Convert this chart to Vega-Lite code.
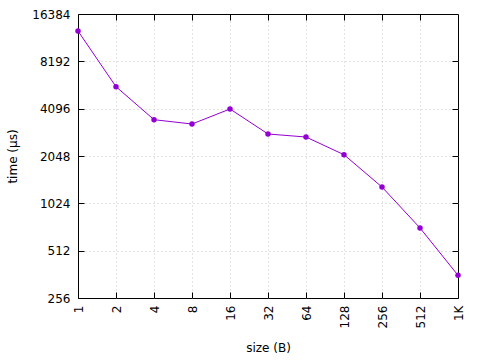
{
  "$schema": "https://vega.github.io/schema/vega-lite/v6.json",
  "width": 380,
  "height": 284,
  "autosize": {"type": "none"},
  "padding": {"left": 78, "top": 14, "right": 22, "bottom": 62},
  "background": "white",
  "config": {
    "font": "DejaVu Sans",
    "view": {"stroke": "#000000", "strokeWidth": 1},
    "axis": {
      "labelFont": "DejaVu Sans",
      "titleFont": "DejaVu Sans",
      "labelFontSize": 12,
      "titleFontSize": 12,
      "labelColor": "#000000",
      "titleColor": "#000000",
      "titleFontWeight": "normal",
      "domain": false,
      "tickColor": "#000000",
      "tickWidth": 1,
      "tickSize": -6,
      "gridColor": "#c8c8c8",
      "gridDash": [1, 3],
      "gridWidth": 1
    }
  },
  "data": {
    "values": [
      {"size": 1, "time": 12770},
      {"size": 2, "time": 5650},
      {"size": 4, "time": 3485},
      {"size": 8, "time": 3272},
      {"size": 16, "time": 4076},
      {"size": 32, "time": 2827},
      {"size": 64, "time": 2705},
      {"size": 128, "time": 2087},
      {"size": 256, "time": 1300},
      {"size": 512, "time": 714},
      {"size": 1024, "time": 357}
    ]
  },
  "resolve": {"axis": {"x": "independent", "y": "independent"}},
  "layer": [
    {
      "mark": {"type": "line", "color": "#9400D3", "strokeWidth": 1},
      "encoding": {
        "x": {
          "field": "size",
          "type": "quantitative",
          "scale": {"type": "log", "base": 2, "domain": [1, 1024], "nice": false},
          "axis": {
            "orient": "bottom",
            "title": "size (B)",
            "values": [1, 2, 4, 8, 16, 32, 64, 128, 256, 512, 1024],
            "labelExpr": "datum.value == 1024 ? '1K' : datum.value",
            "labelAngle": -90,
            "labelAlign": "right",
            "labelBaseline": "middle",
            "labelPadding": 13,
            "titlePadding": 15,
            "grid": false
          }
        },
        "y": {
          "field": "time",
          "type": "quantitative",
          "scale": {"type": "log", "base": 2, "domain": [256, 16384], "nice": false},
          "axis": {
            "orient": "left",
            "title": "time (µs)",
            "values": [256, 512, 1024, 2048, 4096, 8192, 16384],
            "format": "d",
            "labelPadding": 14,
            "titlePadding": 12,
            "grid": false
          }
        }
      }
    },
    {
      "mark": {"type": "point", "filled": true, "color": "#9400D3", "size": 30, "opacity": 1},
      "encoding": {
        "x": {
          "field": "size",
          "type": "quantitative",
          "axis": {
            "orient": "top",
            "title": null,
            "labels": false,
            "values": [2, 4, 8, 16, 32, 64, 128, 256, 512],
            "grid": true
          }
        },
        "y": {
          "field": "time",
          "type": "quantitative",
          "axis": {
            "orient": "right",
            "title": null,
            "labels": false,
            "values": [512, 1024, 2048, 4096, 8192],
            "grid": true
          }
        }
      }
    }
  ]
}
